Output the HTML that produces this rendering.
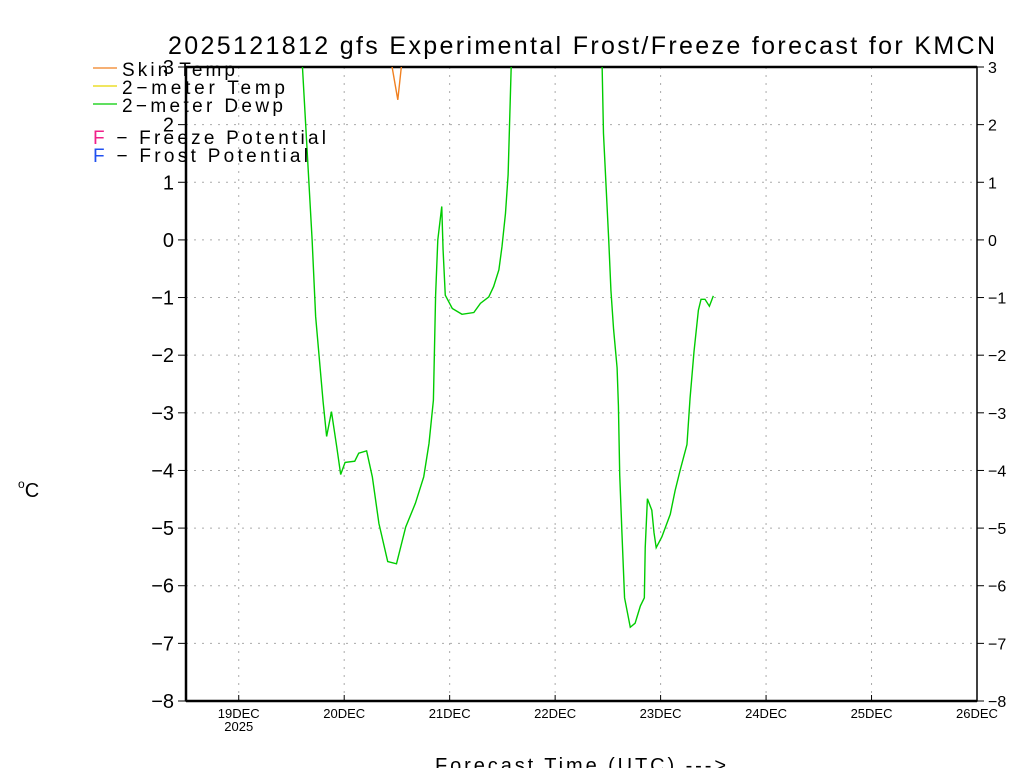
<!DOCTYPE html>
<html><head><meta charset="utf-8"><style>
body{margin:0;background:#fff;}
svg text{font-family:"Liberation Sans",sans-serif;}
</style></head><body>
<svg id="chart" width="1024" height="768" xmlns="http://www.w3.org/2000/svg">
<rect width="1024" height="768" fill="#fff"/>
<text x="168" y="54" font-size="25" textLength="827" lengthAdjust="spacing">2025121812 gfs Experimental Frost/Freeze forecast for KMCN</text>
<g id="grid"></g>
<g id="axes"></g>
<defs><clipPath id="plotclip"><rect x="186" y="67" width="791" height="634"/></clipPath></defs>
<g id="series" clip-path="url(#plotclip)"></g>
<g>
<line x1="93" y1="68" x2="117" y2="68" stroke="#f08020" stroke-width="1.2"/>
<text x="122" y="76" font-size="19" textLength="113" lengthAdjust="spacing">Skin Temp</text>
<line x1="93" y1="86" x2="117" y2="86" stroke="#e8d800" stroke-width="1.2"/>
<text x="122" y="94" font-size="19" textLength="163" lengthAdjust="spacing">2−meter Temp</text>
<line x1="93" y1="104" x2="117" y2="104" stroke="#00cc00" stroke-width="1.2"/>
<text x="122" y="112" font-size="19" textLength="161" lengthAdjust="spacing">2−meter Dewp</text>
<text x="93" y="144" font-size="19" textLength="233" lengthAdjust="spacing"><tspan fill="#f0208a">F</tspan> − Freeze Potential</text>
<text x="93" y="162" font-size="19" textLength="215" lengthAdjust="spacing"><tspan fill="#2050f0">F</tspan> − Frost Potential</text>
</g>
<text x="18" y="497" font-size="20"><tspan font-size="12" dy="-9">o</tspan><tspan dy="9">C</tspan></text>
<text x="435" y="772" font-size="20" textLength="291" lengthAdjust="spacing">Forecast Time (UTC) ---&gt;</text>
</svg>
<script>
// hours since 19DEC 00Z
const dewHours=[13,14.5,16.7,17.5,19.2,20,21.1,22.3,23.2,24.2,26.4,27.3,29.1,30.4,31.9,33.9,35.9,38,40.2,42.1,43.3,44.3,44.8,45.3,46.2,46.5,47,48.6,50.8,53.5,55,56.9,58,59.2,59.9,60.7,61.3,62,72,82.7,83,83.6,84.2,84.7,85.3,86.1,86.4,86.7,87.2,87.8,89.1,90.2,91.4,92.3,92.5,93,94,94.5,95,96.3,98.2,99.3,100.5,102,102.7,103.6,104.6,105.2,106.1,107.1,108];
const dewValues=[4,3,0,-1.33,-2.81,-3.41,-2.98,-3.59,-4.07,-3.86,-3.84,-3.70,-3.66,-4.11,-4.92,-5.58,-5.62,-4.98,-4.57,-4.11,-3.53,-2.78,-0.96,0,0.58,-0.17,-0.96,-1.19,-1.29,-1.26,-1.10,-0.99,-0.81,-0.52,-0.12,0.46,1.13,3,8,2.99,1.85,0.92,-0.01,-0.88,-1.55,-2.22,-2.88,-4.08,-5.08,-6.21,-6.72,-6.65,-6.35,-6.21,-5.34,-4.49,-4.69,-5.08,-5.34,-5.15,-4.76,-4.35,-3.98,-3.55,-2.75,-1.94,-1.22,-1.03,-1.03,-1.15,-0.97];
const skinHours=[34.2,34.9,36.2,37,37.5];
const skinValues=[4,3,2.43,3,4];
const yTicks=[3,2,1,0,-1,-2,-3,-4,-5,-6,-7,-8];
const dayLabels=["19DEC","20DEC","21DEC","22DEC","23DEC","24DEC","25DEC","26DEC"];
const NS="http://www.w3.org/2000/svg";
const X0=186,X1=977,Y0=67,Y1=701,H0=-12,H1=168,V0=3,V1=-8;
const xs=h=>X0+(h-H0)/(H1-H0)*(X1-X0);
const ys=v=>Y0+(v-V0)/(V1-V0)*(Y1-Y0);
function mk(tag,attrs,parent){const e=document.createElementNS(NS,tag);for(const k in attrs)e.setAttribute(k,attrs[k]);parent.appendChild(e);return e;}
const grid=document.getElementById('grid'),axes=document.getElementById('axes'),ser=document.getElementById('series');
yTicks.forEach(v=>{
  const y=ys(v);
  const g=mk('line',{x1:X0,x2:X1,y1:y,y2:y,stroke:'#aaa','stroke-dasharray':'2,6'},grid);
  
  
  mk('line',{x1:X0-8,x2:X0,y1:y,y2:y,stroke:'#000'},axes);
  mk('line',{x1:X1,x2:X1+7,y1:y,y2:y,stroke:'#000'},axes);
  const s=(v<0?'−':'')+Math.abs(v);
  const t=mk('text',{x:X0-12,y:y+7,'font-size':20,'text-anchor':'end'},axes);t.textContent=s;
  
  
  const t2=mk('text',{x:X1+11,y:y+6,'font-size':16},axes);t2.textContent=s;
  
  
});
dayLabels.forEach((d,i)=>{
  const x=xs(i*24);
  const g=mk('line',{x1:x,x2:x,y1:Y0,y2:Y1,stroke:'#aaa','stroke-dasharray':'2,6'},grid);
  
  
  mk('line',{x1:x,x2:x,y1:Y1-6,y2:Y1,stroke:'#000'},axes);
  const t=mk('text',{x:x,y:Y1+17,'font-size':13,'text-anchor':'middle'},axes);t.textContent=d;
  
  
});
const yr=mk('text',{x:xs(0),y:Y1+30,'font-size':13,'text-anchor':'middle'},axes);yr.textContent='2025';


mk('rect',{x:X0,y:Y0,width:X1-X0,height:Y1-Y0,fill:'none',stroke:'#000','stroke-width':1.5},axes);
mk('line',{x1:X0,x2:X1,y1:Y0,y2:Y0,stroke:'#000','stroke-width':2.5},axes);
mk('line',{x1:X0,x2:X0,y1:Y0,y2:Y1,stroke:'#000','stroke-width':2.5},axes);
mk('line',{x1:X0,x2:X1,y1:Y1,y2:Y1,stroke:'#000','stroke-width':2.5},axes);
function line(hs,vs,color,name){
  const p=mk('polyline',{points:hs.map((h,i)=>xs(h)+','+ys(vs[i])).join(' '),fill:'none',stroke:color,'stroke-width':1.4},ser);
  
  
}
line(skinHours,skinValues,'#f08020','skin-temp-line');
line(dewHours,dewValues,'#00cc00','dewpoint-line');
</script>
</body></html>
